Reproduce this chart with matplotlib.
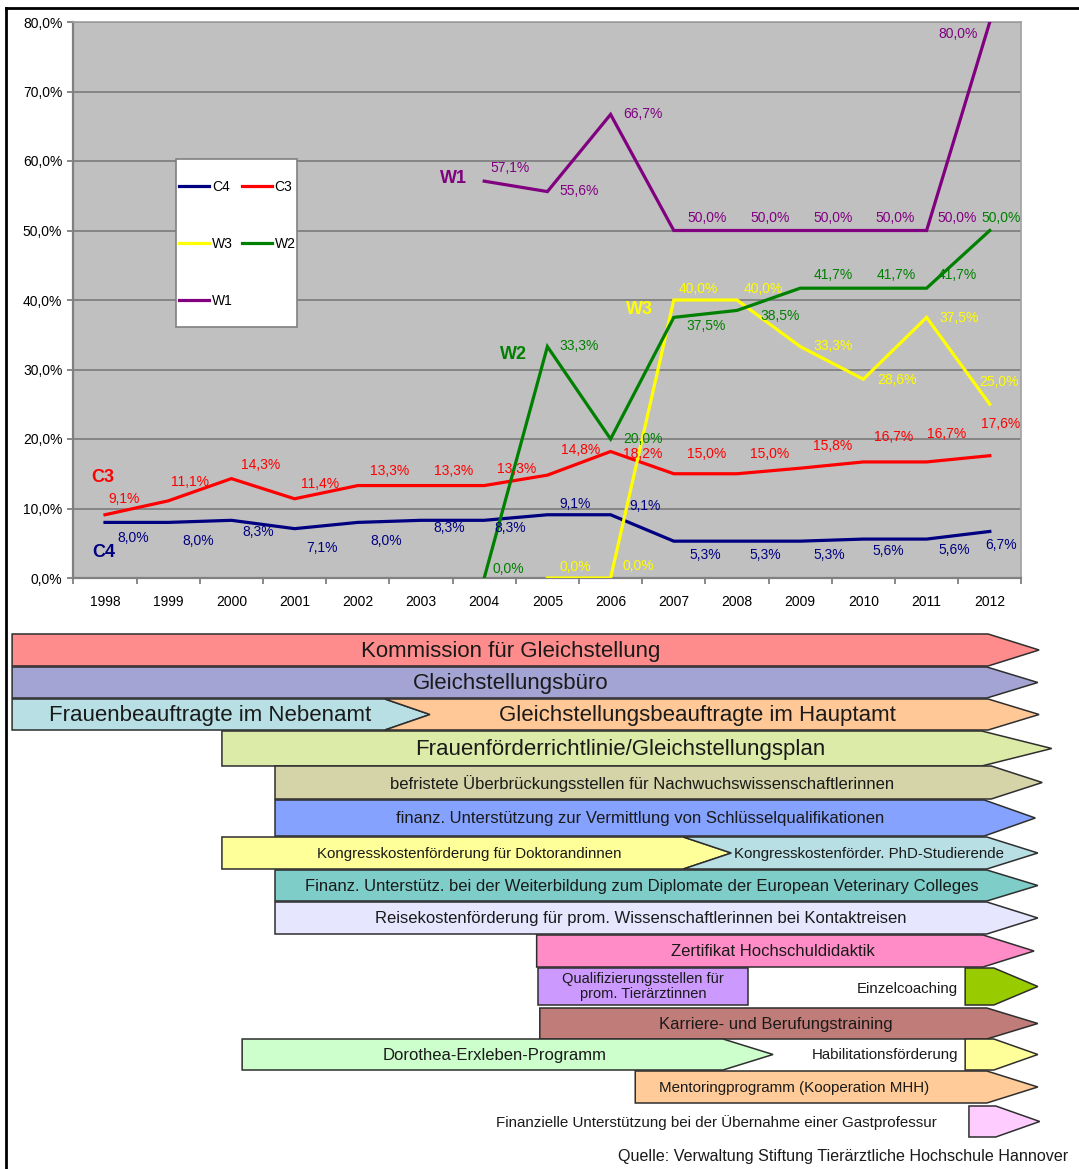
import matplotlib
matplotlib.use("Agg")
import matplotlib.pyplot as plt
from matplotlib.patches import Polygon, Rectangle
from matplotlib.lines import Line2D
from matplotlib.ticker import MultipleLocator, FixedLocator, FuncFormatter, NullFormatter

plt.rcParams["font.family"] = ["Liberation Sans", "DejaVu Sans"]

# --- Frauenanteil an Professuren (in %) ---
years = list(range(1998, 2013))
c4 = [8.0, 8.0, 8.3, 7.1, 8.0, 8.3, 8.3, 9.1, 9.1, 5.3, 5.3, 5.3, 5.6, 5.6, 6.7]
c3 = [9.1, 11.1, 14.3, 11.4, 13.3, 13.3, 13.3, 14.8, 18.2, 15.0, 15.0, 15.8, 16.7, 16.7, 17.6]
w3_years = list(range(2005, 2013))
w3 = [0.0, 0.0, 40.0, 40.0, 33.3, 28.6, 37.5, 25.0]
w2_years = list(range(2004, 2013))
w2 = [0.0, 33.3, 20.0, 37.5, 38.5, 41.7, 41.7, 41.7, 50.0]
w1_years = list(range(2004, 2013))
w1 = [57.1, 55.6, 66.7, 50.0, 50.0, 50.0, 50.0, 50.0, 80.0]

# --- Massnahmen (Zeitleiste unten): Beginn / Ende in Jahren ---
bar_labels = [
    "Kommission für Gleichstellung",
    "Gleichstellungsbüro",
    "Frauenbeauftragte im Nebenamt",
    "Gleichstellungsbeauftragte im Hauptamt",
    "Frauenförderrichtlinie/Gleichstellungsplan",
    "befristete Überbrückungsstellen für Nachwuchswissenschaftlerinnen",
    "finanz. Unterstützung zur Vermittlung von Schlüsselqualifikationen",
    "Kongresskostenförderung für Doktorandinnen",
    "Kongresskostenförder. PhD-Studierende",
    "Finanz. Unterstütz. bei der Weiterbildung zum Diplomate der European Veterinary Colleges",
    "Reisekostenförderung für prom. Wissenschaftlerinnen bei Kontaktreisen",
    "Zertifikat Hochschuldidaktik",
    "Qualifizierungsstellen für\nprom. Tierärztinnen",
    "Einzelcoaching",
    "Karriere- und Berufungstraining",
    "Dorothea-Erxleben-Programm",
    "Habilitationsförderung",
    "Mentoringprogramm (Kooperation MHH)",
    "Finanzielle Unterstützung bei der Übernahme einer Gastprofessur",
]
bar_start = [1996.53, 1996.53, 1996.53, 2002.43, 1999.85, 2000.69, 2000.69, 1999.85, 2007.15,
             2000.69, 2000.69, 2004.83, 2004.85, 2011.61, 2004.88, 2000.17, 2011.61, 2006.39, 2011.67]
bar_end = [2012.78, 2012.76, 2003.14, 2012.78, 2012.98, 2012.83, 2012.72, 2007.91, 2012.76,
           2012.76, 2012.76, 2012.70, 2008.17, 2012.76, 2012.76, 2008.57, 2012.76, 2012.76, 2012.79]

# --- layout ---
W, H = 1079, 1169
X0, PX = 105.0, 63.2  # pixel of 1998, pixels per year

lbl = lambda v: f"{v:.1f}%".replace(".", ",")

fig = plt.figure(figsize=(W / 100, H / 100), dpi=100)

ax = fig.add_axes([(X0 - PX / 2) / W, 1 - 578 / H, 15 * PX / W, (578 - 22) / H])
ax.set_xlim(1997.5, 2012.5)
ax.set_ylim(0, 80)
ax.set_facecolor("#C0C0C0")
ax.set_axisbelow(True)
ax.yaxis.grid(True, color="#808080", lw=1.3)
for s in ["left", "bottom"]:
    ax.spines[s].set_color("#808080")
    ax.spines[s].set_linewidth(1.6)
for s in ["top", "right"]:
    ax.spines[s].set_color("#A0A0A0")
    ax.spines[s].set_linewidth(1.2)

ax.yaxis.set_major_locator(MultipleLocator(10))
ax.yaxis.set_major_formatter(FuncFormatter(lambda v, p: lbl(v)))
ax.tick_params(axis="y", direction="out", length=4, width=1.3, color="#808080",
               labelsize=10, pad=4)
ax.xaxis.set_major_locator(FixedLocator([y - 0.5 for y in years] + [2012.5]))
ax.xaxis.set_major_formatter(NullFormatter())
ax.xaxis.set_minor_locator(FixedLocator(years))
ax.xaxis.set_minor_formatter(FuncFormatter(lambda v, p: str(int(round(v)))))
ax.tick_params(axis="x", which="major", direction="out", length=4, width=1.3, color="#808080")
ax.tick_params(axis="x", which="minor", length=0, labelsize=10, pad=12.5)

series = [
    ("C4", years, c4, "#000080"),
    ("C3", years, c3, "#FF0000"),
    ("W3", w3_years, w3, "#FFFF00"),
    ("W2", w2_years, w2, "#008000"),
    ("W1", w1_years, w1, "#800080"),
]
# label offsets in pixels (dx, dy up)
offsets = {
    "C4": [(28, -16), (30, -19), (27, -12), (27, -19), (28, -19), (28, -8), (26, -8), (28, 11),
           (34, 9), (31, -14), (28, -14), (29, -14), (25, -12), (28, -11), (11, -14)],
    "C3": [(19, 16), (22, 19), (29, 14), (25, 15), (32, 15), (33, 15), (32, 17), (33, 25),
           (32, -2), (33, 20), (33, 20), (32, 22), (30, 25), (20, 28), (11, 32)],
    "W3": [(28, 11), (28, 12), (25, 11), (26, 11), (33, 1), (34, -1), (32, -1), (9, 22)],
    "W2": [(24, 9), (32, 1), (32, 0), (32, -9), (43, -6), (33, 13), (33, 13), (31, 13), (11, 12)],
    "W1": [(26, 13), (32, 1), (32, 0), (33, 12), (33, 12), (33, 12), (32, 12), (31, 12), (-32, -12)],
}
name_pos = {"C4": (1997.98, 3.6), "C3": (1997.97, 14.4), "W3": (2006.45, 38.6),
            "W2": (2004.46, 32.1), "W1": (2003.51, 57.55)}

handles = {}
for name, xs, ys, col in series:
    ln, = ax.plot(xs, ys, color=col, lw=2.3, solid_joinstyle="miter", clip_on=True, zorder=3)
    handles[name] = ln
for name, xs, ys, col in series:
    for x, v, (dx, dy) in zip(xs, ys, offsets[name]):
        ax.annotate(lbl(v), (x, v), xytext=(dx, dy), textcoords="offset pixels",
                    ha="center", va="center", color=col, fontsize=10, zorder=6,
                    annotation_clip=False)
    nx, ny = name_pos[name]
    ax.text(nx, ny, name, color=col, fontsize=13, fontweight="bold",
            ha="center", va="center", zorder=6)

# legend box
ax.add_patch(Rectangle(((176 - 73.4) / 948, (578 - 327) / 556), 121 / 948, 168 / 556,
                       transform=ax.transAxes, facecolor="white", edgecolor="#808080",
                       lw=1.2, zorder=7))
order = ["C4", "W3", "W1", "C3", "W2"]
leg = ax.legend([handles[k] for k in order], order, ncol=2, frameon=False,
                loc="upper left", bbox_to_anchor=((176.5 - 73.4) / 948, (578 - 177.5) / 556),
                borderpad=0.2, fontsize=10, handlelength=2.15, handletextpad=0.2,
                columnspacing=0.65, labelspacing=3.08, borderaxespad=0)
leg.set_zorder(8)

# --- timeline diagram ---
dg = fig.add_axes([0, 0, 1, 1], zorder=-1)
dg.set_xlim(1998 - X0 / PX, 1998 + (W - X0) / PX)
dg.set_ylim(H, 0)
dg.axis("off")

row_top = [634, 667, 699, 731, 766, 800, 837, 870, 902, 935, 968, 1008, 1039, 1071, 1106]
row_bot = [666, 698, 730, 766, 799, 836, 869, 901, 934, 967, 1005, 1039, 1070, 1103, 1137]
bar_row = [0, 1, 2, 2, 3, 4, 5, 6, 6, 7, 8, 9, 10, 10, 11, 12, 12, 13, 14]
bar_colors = ["#FF8C8C", "#A4A4D4", "#B8E0E4", "#FFC896", "#DCEBA8", "#D4D4A8", "#85A2FF",
              "#FFFF99", "#B8E0E4", "#7ECDC9", "#E6E6FF", "#FF8CC6", "#CC99FF", "#99CC00",
              "#C07C78", "#CCFFCC", "#FFFF99", "#FFCC99", "#FFCCFF"]
tip_px = [51, 51, 45, 51, 70, 51, 51, 48, 51, 51, 51, 51, 0, 44, 51, 50, 44, 51, 44]
notch_px = [0, 0, 0, 45, 0, 0, 0, 0, 48, 0, 0, 0, 0, 0, 0, 0, 0, 0, 0]
text_x = [511, 511, 210, 697, 620, 642, 640, 469, 869, 642, 641, 773, 643, 958, 776, 495, 958, 794, 937]
text_dy = [1, 1, 1, 1, 1, 1, 1, 1, 1, 1, 1, 1, 0, 3, 1, 1, 1, 1, 1]
text_ha = ["center"] * 13 + ["right"] + ["center"] * 2 + ["right", "center", "right"]
text_size = [16, 16, 16, 16, 16, 12, 12, 10.8, 10.8, 12, 12, 12, 10.5, 10.8, 12, 12, 10.8, 10.9, 10.9]

yr = lambda px: 1998 + (px - X0) / PX
for i, lab in enumerate(bar_labels):
    top, bot = row_top[bar_row[i]], row_bot[bar_row[i]]
    mid = (top + bot) / 2
    s, e = bar_start[i], bar_end[i]
    tip = tip_px[i] / PX
    pts = [(s, top), (e - tip, top), (e, mid), (e - tip, bot), (s, bot)]
    if notch_px[i]:
        pts.append((s + notch_px[i] / PX, mid))
    dg.add_patch(Polygon(pts, closed=True, facecolor=bar_colors[i], edgecolor="#2E2E2E",
                         lw=1.1, joinstyle="miter"))
    dg.text(yr(text_x[i]), mid + text_dy[i], lab, ha=text_ha[i], va="center",
            fontsize=text_size[i], color="#1A1A1A", linespacing=1.05)

dg.text(yr(1068), 1156, "Quelle: Verwaltung Stiftung Tierärztliche Hochschule Hannover",
        ha="right", va="center", fontsize=11.6, color="#1A1A1A")

# outer frame (top and left)
fig.add_artist(Line2D([6 / W, 6 / W], [1 - 8 / H, 0], transform=fig.transFigure, color="black", lw=2))
fig.add_artist(Line2D([6 / W, 1], [1 - 8 / H, 1 - 8 / H], transform=fig.transFigure, color="black", lw=2))

fig.savefig("out.png", dpi=100, facecolor="white")
